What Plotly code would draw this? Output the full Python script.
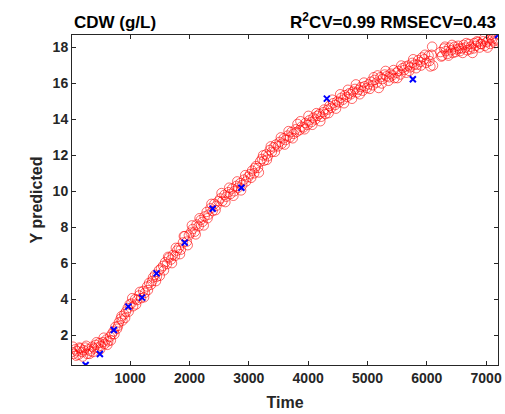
import plotly.graph_objects as go

# Predicted values (red circles)
pred_time = [20, 45, 75, 100, 130, 160, 190, 215, 245, 275, 300, 330, 360, 390, 420, 450, 480, 510, 540, 570, 600, 630, 660, 690,
             720, 750, 780, 810, 840, 870, 900, 930, 960, 990,
             1020, 1050, 1085, 1120, 1150, 1185, 1220, 1250, 1285, 1320, 1350, 1385, 1420, 1450, 1485,
             1520, 1555, 1590, 1620, 1655, 1690, 1720, 1755, 1790, 1820, 1855, 1890, 1920, 1955, 1990,
             2020, 2055, 2090, 2120, 2155, 2190, 2220, 2255, 2290, 2320, 2355, 2390, 2420, 2455, 2490,
             2520, 2555, 2590, 2620, 2655, 2690, 2720, 2755, 2790, 2820, 2855, 2890, 2920, 2955, 2990,
             3020, 3055, 3090, 3120, 3155, 3190, 3220, 3255, 3290, 3320, 3355, 3390, 3420, 3455, 3490,
             3520, 3555, 3590, 3620, 3655, 3690, 3720, 3755, 3790, 3820, 3855, 3890, 3920, 3955, 3990,
             4020, 4055, 4090, 4120, 4155, 4190, 4220, 4255, 4290,
             4330, 4360, 4390, 4420, 4455, 4490, 4520, 4555, 4590, 4620, 4655, 4690, 4720, 4755, 4790, 4820, 4855, 4890, 4920, 4955, 4990,
             5020, 5055, 5090, 5120, 5155, 5190, 5220, 5255, 5290, 5320, 5355, 5390, 5420, 5455, 5490, 5520, 5555, 5590, 5620, 5655,
             5690, 5720, 5755, 5790, 5820, 5855, 5890, 5920, 5955, 5990, 6030, 6060, 6080, 6090, 6105,
             6230, 6260, 6290, 6320, 6350, 6380, 6410, 6440, 6470, 6500, 6530, 6560, 6590, 6620, 6650, 6680, 6710, 6740, 6770, 6800,
             6830, 6860, 6890, 6920, 6950, 6980, 7010, 7040, 7070, 7100, 7130, 7160, 7190,
             35, 90, 145, 200, 260, 315, 375, 435, 495, 555, 615, 675,
             735, 795, 855, 915, 975,
             1035, 1100, 1165, 1235, 1300, 1370, 1435, 1500,
             1570, 1640, 1705, 1770, 1840, 1905, 1970,
             2040, 2105, 2170, 2240, 2305, 2370, 2440,
             2540, 2605, 2670, 2740, 2805, 2870, 2940,
             3040, 3105, 3170, 3240, 3305, 3370, 3440,
             3540, 3605, 3670, 3740, 3805, 3870, 3940, 4005, 4070, 4140, 4205, 4270,
             4345, 4405, 4470, 4540, 4605, 4670, 4740, 4805, 4870, 4940,
             5040, 5105, 5170, 5240, 5305, 5370, 5440, 5505, 5570, 5640, 5705, 5770, 5840, 5905, 5970, 6045,
             6245, 6305, 6365, 6425, 6485, 6545, 6605, 6665, 6725, 6785, 6845, 6905, 6965, 7025, 7085, 7145]
pred_value = [1.05, 0.95, 1.2, 1.1, 0.9, 1.25, 1.05, 1.15, 1.3, 0.95, 1.2, 1.1, 1.35, 1.25, 1.45, 1.3, 1.55, 1.4, 1.6, 1.5, 1.75, 1.65, 1.9, 2.05,
              2.2, 2.45, 2.35, 2.7, 2.9, 2.8, 3.15, 3.3, 3.5, 3.7,
              3.75, 3.6, 4.0, 3.95, 4.2, 4.05, 4.45, 4.35, 4.7, 4.9, 4.8, 5.2, 5.35, 5.25, 5.6,
              5.7, 5.85, 6.05, 5.95, 6.3, 6.2, 6.45, 6.4, 6.7, 6.85, 6.75, 7.15, 7.5, 7.2, 7.55,
              7.7, 7.9, 7.75, 8.15, 8.05, 8.4, 8.3, 8.6, 8.85, 8.7, 9.05, 8.9, 9.3, 9.2, 9.45,
              9.6, 9.45, 9.8, 9.7, 9.95, 9.85, 10.15, 10.0, 10.3, 10.2, 10.45, 10.35, 10.65, 10.55, 10.8,
              10.95, 11.15, 11.0, 11.4, 11.3, 11.65, 11.8, 11.7, 12.05, 11.95, 12.3, 12.2, 12.45, 12.6, 12.5,
              12.75, 12.65, 12.95, 12.85, 13.1, 13.0, 13.3, 13.2, 13.45, 13.75, 13.4, 13.6, 13.55, 13.8, 13.7,
              13.95, 13.85, 14.1, 14.0, 14.2, 14.3, 14.15, 14.4, 14.3,
              14.55, 14.75, 14.65, 14.9, 14.8, 15.0, 14.95, 15.2, 15.1, 15.35, 15.25, 15.45, 15.4, 15.55, 15.7, 15.5, 15.65, 15.8, 15.6, 15.85, 15.75,
              15.95, 16.1, 15.9, 16.2, 16.05, 15.75, 16.35, 16.25, 16.5, 16.4, 16.15, 16.55, 16.45, 16.3, 16.6, 16.7, 16.5, 16.85, 16.75, 16.6,
              17.0, 16.9, 17.15, 17.05, 16.85, 17.3, 17.2, 17.45, 17.35, 17.15, 17.55, 16.95, 17.6, 18.05, 17.0,
              17.75, 17.55, 17.95, 17.8, 17.65, 18.0, 17.85, 17.7, 18.05, 17.9, 18.1, 17.8, 17.95, 18.15, 18.0, 17.85, 18.2, 18.05, 17.7, 18.25,
              18.1, 18.3, 18.0, 18.2, 18.35, 18.1, 18.3, 18.4, 18.2, 18.45, 18.35, 18.5, 18.4,
              1.35, 0.85, 1.3, 0.8, 1.4, 0.95, 1.05, 1.6, 1.2, 1.85, 1.45, 1.7,
              2.05, 2.5, 3.05, 2.95, 3.3,
              4.05, 3.7, 4.4, 4.1, 4.5, 5.0, 5.0, 5.3,
              5.6, 6.35, 6.0, 6.85, 6.5, 7.5, 7.0,
              8.1, 7.6, 8.5, 8.1, 8.5, 9.3, 8.95,
              9.9, 9.4, 10.2, 9.75, 10.55, 10.05, 10.9,
              10.75, 11.3, 11.05, 12.0, 11.75, 12.5, 12.2,
              13.0, 12.6, 13.35, 12.95, 13.3, 13.9, 13.45, 14.2, 13.7, 14.35, 13.9, 14.55,
              14.35, 15.1, 14.6, 15.4, 14.9, 15.65, 15.15, 15.95, 15.4, 16.05,
              15.7, 16.35, 16.45, 16.0, 16.7, 16.35, 16.75, 16.3, 17.0, 16.95, 16.7, 17.35, 17.05, 17.0, 17.6, 17.25,
              17.5, 18.05, 17.55, 18.15, 17.75, 17.95, 17.7, 18.25, 17.9, 17.95, 18.35, 18.2, 18.5, 18.0, 18.55, 18.25]

# Measured reference values (blue crosses)
meas_time = [250, 490, 725, 970, 1200, 1445, 1920, 2390, 2875, 4315, 5765, 7200]
meas_value = [0.33, 0.94, 2.28, 3.58, 4.08, 5.43, 7.14, 9.03, 10.2, 15.16, 16.24, 18.7]

x_ticks = [1000, 2000, 3000, 4000, 5000, 6000, 7000]
y_ticks = [2, 4, 6, 8, 10, 12, 14, 16, 18]

FONT = "Liberation Sans, Arial, sans-serif"
TXT = "#262626"

fig = go.Figure()
fig.add_trace(go.Scatter(
    x=pred_time, y=pred_value, mode="markers",
    marker=dict(symbol="circle-open", size=9.5, color="#ff0000", line=dict(width=0.6)),
    cliponaxis=True, showlegend=False))
fig.add_trace(go.Scatter(
    x=meas_time, y=meas_value, mode="markers",
    marker=dict(symbol="x-thin-open", size=6, color="#0000ff", line=dict(width=2, color="#0000ff")),
    cliponaxis=True, showlegend=False))

axis_common = dict(showline=True, linecolor=TXT, linewidth=1, mirror="allticks",
                   ticks="inside", ticklen=4, tickwidth=1, tickcolor=TXT,
                   showgrid=False, zeroline=False, ticklabeloverflow="allow",
                   tickfont=dict(family=FONT, size=14, color=TXT, weight="bold"))

fig.update_layout(
    width=505, height=414,
    margin=dict(l=72, r=3, t=35, b=49),
    plot_bgcolor="white", paper_bgcolor="white",
    xaxis=dict(range=[20, 7200], tickvals=x_ticks, ticktext=[str(v) for v in x_ticks],
               title=dict(text="<b>Time</b>", font=dict(family=FONT, size=16, color=TXT), standoff=12),
               **axis_common),
    yaxis=dict(range=[0.33, 18.7], tickvals=y_ticks, ticktext=[str(v) for v in y_ticks],
               title=dict(text="<b>Y predicted</b>", font=dict(family=FONT, size=16, color=TXT), standoff=6),
               **axis_common),
    annotations=[
        dict(text="<b>CDW (g/L)</b>", xref="paper", yref="paper", x=0, y=1,
             xanchor="left", yanchor="bottom", yshift=1, showarrow=False,
             font=dict(family=FONT, size=17, color="black")),
        dict(text="<b>R<sup>2</sup>CV=0.99 RMSECV=0.43</b>", xref="paper", yref="paper", x=1, y=1,
             xanchor="right", yanchor="bottom", yshift=1, showarrow=False,
             font=dict(family=FONT, size=17, color="black")),
    ],
)

fig.write_html("out.html")
